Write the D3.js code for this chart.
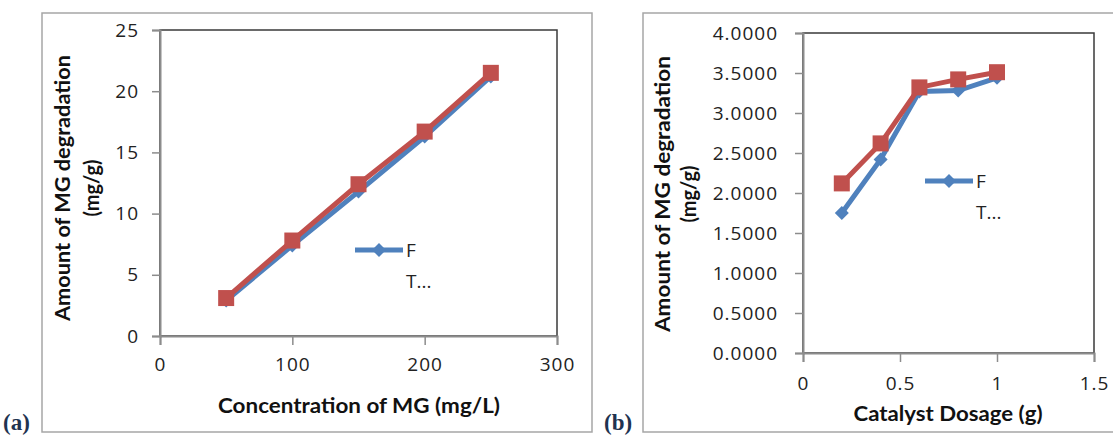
<!DOCTYPE html>
<html>
<head>
<meta charset="utf-8">
<script src="https://cdn.jsdelivr.net/npm/d3@7"></script>
<style>
  body { margin: 0; background: #fff; }
  svg { display: block; }
  .tick text { font-family: "Open Sans", Lato, sans-serif; fill: #222; }
  .ttl { font-family: Lato, "Open Sans", sans-serif; font-weight: bold; fill: #111; }
</style>
</head>
<body>
<script>
// panel (a)
var concX = [50, 100, 150, 200, 250];
var concBlue = [2.9, 7.4, 11.8, 16.3, 21.2];
var concRed = [3.1, 7.8, 12.4, 16.7, 21.5];
var concXTicks = [0, 100, 200, 300];
var concYTicks = [0, 5, 10, 15, 20, 25];

// panel (b)
var doseX = [0.2, 0.4, 0.6, 0.8, 1.0];
var doseBlue = [1.75, 2.42, 3.27, 3.28, 3.44];
var doseRed = [2.12, 2.62, 3.32, 3.42, 3.51];
var doseXTicks = [0, 0.5, 1, 1.5];
var doseYTicks = [0, 0.5, 1, 1.5, 2, 2.5, 3, 3.5, 4];

var legendNames = ["F", "T..."];
var blue = "#4f81bd", red = "#c0504d";

var svg = d3.select("body").append("svg")
  .attr("width", 1113)
  .attr("height", 437);

function drawPanel(p) {
  var g = svg.append("g");

  // outer chart frame
  g.append("rect")
    .attr("x", p.frame[0]).attr("y", p.frame[1])
    .attr("width", p.frame[2]).attr("height", p.frame[3])
    .attr("fill", "none").attr("stroke", "#a6a6a6").attr("stroke-width", 1.5);

  var x = d3.scaleLinear().domain(p.xDom).range([p.left, p.right]);
  var y = d3.scaleLinear().domain(p.yDom).range([p.bottom, p.top]);

  // plot area border
  g.append("rect")
    .attr("x", p.left).attr("y", p.top)
    .attr("width", p.right - p.left).attr("height", p.bottom - p.top)
    .attr("fill", "none").attr("stroke", "#3a3a3a").attr("stroke-width", 1.5);

  var xa = g.append("g")
    .attr("transform", "translate(0," + p.bottom + ")")
    .call(d3.axisBottom(x).tickValues(p.xTicks).tickSize(9).tickPadding(p.xPad).tickFormat(p.xFmt));
  var ya = g.append("g")
    .attr("transform", "translate(" + p.left + ",0)")
    .call(d3.axisLeft(y).tickValues(p.yTicks).tickSize(8).tickPadding(p.yPad).tickFormat(p.yFmt));
  [xa, ya].forEach(function(a) {
    a.select(".domain").attr("stroke", "#8c8c8c").attr("stroke-width", 2);
    a.selectAll(".tick line").attr("stroke", "#8c8c8c").attr("stroke-width", 1.5);
    a.selectAll(".tick text").style("font-size", p.tickFont + "px")
      .style("letter-spacing", p.tickSpacing + "px");
  });

  var line = d3.line().x(function(d) { return x(d[0]); }).y(function(d) { return y(d[1]); });
  var blueData = d3.zip(p.xs, p.blue), redData = d3.zip(p.xs, p.red);
  var dia = "M0,-7L7,0L0,7L-7,0Z";

  g.append("path").datum(blueData)
    .attr("d", line).attr("fill", "none").attr("stroke", blue).attr("stroke-width", 5);
  g.selectAll(".dia").data(blueData).enter().append("path")
    .attr("transform", function(d) { return "translate(" + x(d[0]) + "," + y(d[1]) + ")"; })
    .attr("d", dia).attr("fill", blue);

  g.append("path").datum(redData)
    .attr("d", line).attr("fill", "none").attr("stroke", red).attr("stroke-width", 5);
  g.selectAll(".sq").data(redData).enter().append("rect")
    .attr("x", function(d) { return x(d[0]) - 8; })
    .attr("y", function(d) { return y(d[1]) - 8; })
    .attr("width", 16).attr("height", 16)
    .attr("fill", red);

  // legend
  var lg = g.append("g").attr("transform", "translate(" + p.legend[0] + "," + p.legend[1] + ")");
  lg.append("line").attr("x1", 0).attr("x2", 48).attr("y1", 0).attr("y2", 0)
    .attr("stroke", blue).attr("stroke-width", 5);
  lg.append("path").attr("transform", "translate(24,0)")
    .attr("d", dia).attr("fill", blue);
  lg.selectAll("text").data(legendNames).enter().append("text")
    .attr("x", 51).attr("y", function(d, i) { return i * 31 + 7; })
    .style("font-family", "'Open Sans', sans-serif").style("font-size", "19px").attr("fill", "#222")
    .text(function(d) { return d; });

  // axis titles
  g.append("text").attr("class", "ttl")
    .attr("x", p.xTitleX).attr("y", p.xTitleY)
    .attr("text-anchor", "middle").style("font-size", "20px")
    .attr("textLength", p.xTitleLen).attr("lengthAdjust", "spacingAndGlyphs")
    .text(p.xTitle);
  var yt = g.append("text").attr("class", "ttl")
    .attr("transform", "translate(" + p.yTitleX + "," + p.yTitleY + ") rotate(-90)")
    .attr("text-anchor", "middle").style("font-size", "20px");
  yt.append("tspan").attr("x", 0).attr("y", 0)
    .attr("textLength", p.yTitleLen).attr("lengthAdjust", "spacingAndGlyphs")
    .text(p.yTitle[0]);
  yt.append("tspan").attr("x", 0).attr("y", p.yTitleGap).text(p.yTitle[1]);

  // panel letter
  svg.append("text")
    .attr("x", p.tag[0]).attr("y", p.tag[1])
    .style("font-family", "'Liberation Serif', serif").style("font-weight", "bold")
    .style("font-size", "23px").attr("fill", "#1f3350")
    .text(p.tagText);
}

drawPanel({
  frame: [42, 13, 550, 419],
  left: 160, right: 557, top: 30, bottom: 336,
  xDom: [0, 300], yDom: [0, 25],
  xTicks: concXTicks, yTicks: concYTicks,
  xFmt: d3.format("d"), yFmt: d3.format("d"),
  xPad: 13, yPad: 13, tickFont: 19, tickSpacing: 1,
  xs: concX, blue: concBlue, red: concRed,
  legend: [355, 250],
  xTitle: "Concentration of MG  (mg/L)", xTitleX: 359, xTitleY: 413, xTitleLen: 282,
  yTitle: ["Amount of MG degradation", "(mg/g)"], yTitleX: 70, yTitleY: 188, yTitleLen: 266, yTitleGap: 29,
  tag: [3, 430], tagText: "(a)"
});

drawPanel({
  frame: [643, 13, 480, 419],
  left: 803, right: 1094, top: 33, bottom: 353,
  xDom: [0, 1.5], yDom: [0, 4],
  xTicks: doseXTicks, yTicks: doseYTicks,
  xFmt: d3.format(""), yFmt: d3.format(".4f"),
  xPad: 15, yPad: 17, tickFont: 19, tickSpacing: 1,
  xs: doseX, blue: doseBlue, red: doseRed,
  legend: [925, 181],
  xTitle: "Catalyst Dosage  (g)", xTitleX: 948, xTitleY: 421, xTitleLen: 189,
  yTitle: ["Amount of MG  degradation", "(mg/g)"], yTitleX: 670, yTitleY: 194, yTitleLen: 276, yTitleGap: 26,
  tag: [604, 430], tagText: "(b)"
});
</script>
</body>
</html>
